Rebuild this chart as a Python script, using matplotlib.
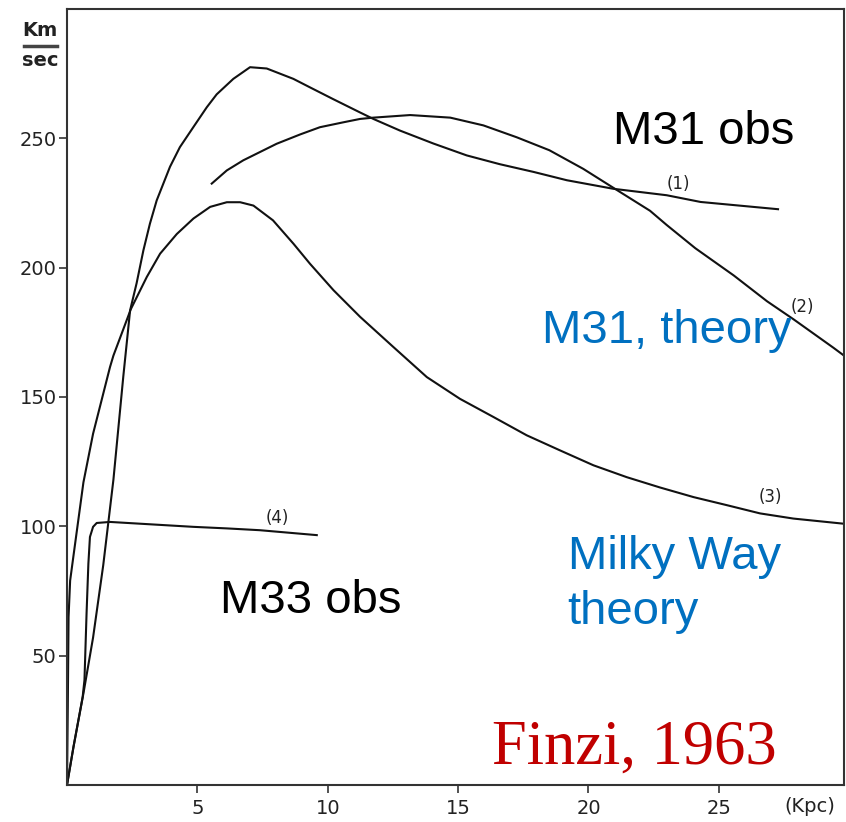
import matplotlib.pyplot as plt
import numpy as np

# curve (1) M31 observed
m31_obs_r = [0, 0.25, 0.63, 1.0, 1.39, 1.78, 2.16, 2.42, 2.67, 2.93, 3.18, 3.44,
             3.95, 4.33, 4.85, 5.36, 5.74, 6.38, 7.02, 7.66, 8.68, 9.32, 10.2,
             11.24, 11.75, 12.77, 14.05, 15.33, 16.6, 17.9, 19.17, 20.95, 23.0,
             24.3, 27.27]
m31_obs_v = [0, 14.8, 35.4, 57, 85, 118, 158, 183.5, 194, 206.7, 217, 226,
             239, 246.6, 254.4, 262, 267, 273, 277.5, 277, 273, 269.7, 265.2,
             260, 257.5, 253, 248, 243.4, 240, 237, 233.8, 230.5, 228,
             225.4, 222.6]

# curve (2) M31 theory
m31_th_r = [5.55, 6.13, 6.76, 7.4, 8.04, 8.94, 9.7, 10.6, 11.24, 11.75, 13.16,
            14.7, 15.97, 17.25, 18.5, 19.8, 20.95, 22.36, 23.0, 24.1, 25.57,
            26.85, 27.87, 29.4, 29.8]
m31_th_v = [232.5, 237.6, 241.5, 244.7, 247.9, 251.5, 254.3, 256.2, 257.5, 258, 259,
            258, 255, 250.4, 245.4, 238.2, 230.9, 222, 216.5, 207.5, 197,
            187, 180, 169, 166]

# curve (3) Milky Way theory
mw_r = [0, 0.03, 0.06, 0.12, 0.24, 0.63, 1.0, 1.65, 1.78, 2.45, 3.06, 3.57, 4.21,
        4.85, 5.49, 6.13, 6.64, 7.15, 7.9, 8.69, 9.32, 10.22, 11.24, 12.52, 13.8,
        15.07, 16.35, 17.63, 18.9, 20.19, 21.47, 22.75, 24.03, 25.3, 26.58,
        27.86, 29.8]
mw_v = [0, 30, 65, 79, 88, 117, 135.8, 161.6, 166, 184, 196.4, 205.4, 213,
        219, 223.5, 225.3, 225.3, 224, 218.3, 209.2, 201.5, 191.3, 181, 169.3, 157.7,
        149.3, 142.3, 135.2, 129.4, 123.6, 119, 115, 111.3, 108.2, 105,
        103, 101]

# curve (4) M33 observed
m33_r = [0, 0.25, 0.6, 0.67, 0.75, 0.82, 0.88, 1.0, 1.14, 1.65, 4.85, 6.13, 7.4, 9.58]
m33_v = [0, 14.8, 34, 40.6, 66.3, 85.6, 95.9, 99.8, 101.3, 101.7, 99.8, 99.2, 98.5, 96.6]

y_ticks = [50, 100, 150, 200, 250]
x_ticks = [5, 10, 15, 20, 25]

fig = plt.figure(figsize=(8.46, 8.22), dpi=100)
ax = fig.add_axes([67 / 846, 1 - 785 / 822, 777 / 846, 776 / 822])

line_kw = dict(color='#111111', lw=1.5, solid_joinstyle='round')
ax.plot(m31_obs_r, m31_obs_v, **line_kw)
ax.plot(m31_th_r, m31_th_v, **line_kw)
ax.plot(mw_r, mw_v, **line_kw)
ax.plot(m33_r, m33_v, **line_kw)

ax.set_xlim(0, 29.8)
ax.set_ylim(0, 300)
ax.set_xticks(x_ticks)
ax.set_yticks(y_ticks)
ax.tick_params(axis='both', direction='out', length=6, width=1.2, color='#333333',
               labelsize=14, labelcolor='#222222')
ax.tick_params(axis='y', pad=1.5)
ax.tick_params(axis='x', pad=4)
ax.tick_params(axis='y', right=True)
for s in ax.spines.values():
    s.set_linewidth(1.5)
    s.set_color('#333333')

# right-side ticks point inward
for t in ax.yaxis.get_major_ticks():
    t.tick2line.set_marker(3)
    t.tick2line.set_markersize(6)

# unit labels
fig.text(40 / 846, 1 - 31 / 822, 'Km', ha='center', va='center', fontsize=14,
         fontweight='bold', color='#222222')
fig.add_artist(plt.Line2D([24 / 846, 57 / 846], [1 - 46 / 822, 1 - 46 / 822],
                          color='#444444', lw=2.5))
fig.text(40 / 846, 1 - 60 / 822, 'sec', ha='center', va='center', fontsize=14,
         fontweight='bold', color='#222222')
fig.text(810 / 846, 1 - 806 / 822, '(Kpc)', ha='center', va='center', fontsize=14,
         color='#222222')

# curve numbers
num_kw = dict(fontsize=12, ha='center', va='center', color='#222222')
ax.text(23.45, 232.5, '(1)', **num_kw)
ax.text(28.2, 184.7, '(2)', **num_kw)
ax.text(26.97, 111.3, '(3)', **num_kw)
ax.text(8.05, 103.2, '(4)', **num_kw)

# annotations
sans = 'Liberation Sans'
ax.text(24.4, 252.5, 'M31 obs', fontsize=34, family=sans, ha='center', va='center',
        color='black')
ax.text(23.0, 175.5, 'M31, theory', fontsize=34, family=sans, ha='center', va='center',
        color='#0070C0')
ax.text(19.2, 77.5, 'Milky Way\ntheory', fontsize=34, family=sans, ha='left',
        va='center', color='#0070C0', linespacing=1.3)
ax.text(9.35, 71, 'M33 obs', fontsize=34, family=sans, ha='center', va='center',
        color='black')
ax.text(21.75, 14, 'Finzi, 1963', fontsize=45, family='Liberation Serif',
        ha='center', va='center', color='#C00000')

fig.savefig('out.png', dpi=100)
